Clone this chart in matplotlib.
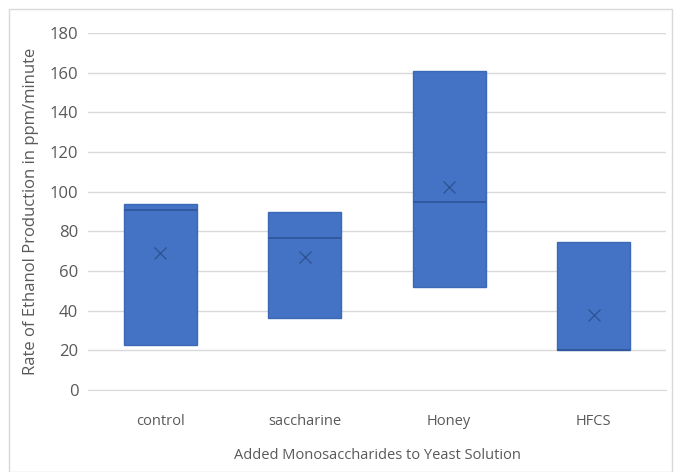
# Box plot: ethanol production rate by added monosaccharide

import matplotlib
matplotlib.use('Agg')
import matplotlib.pyplot as plt
from matplotlib.patches import Rectangle

# data
categories = ['control', 'saccharine', 'Honey', 'HFCS']
q1 = [22.7, 36.2, 51.7, 20.0]
median = [91.0, 76.6, 95.0, 20.0]
q3 = [93.8, 89.9, 161.0, 74.4]
mean = [69.0, 67.3, 102.2, 37.9]
yticks = [0, 20, 40, 60, 80, 100, 120, 140, 160, 180]

plt.rcParams['font.family'] = ['Open Sans', 'DejaVu Sans']

fig = plt.figure(figsize=(6.75, 4.72), dpi=100)
ax = fig.add_axes([88 / 675, 82 / 472, 578 / 675, 357 / 472])

# outer chart frame like excel
fig.patches.append(Rectangle((9 / 675, 0.0), 663 / 675, 463 / 472, transform=fig.transFigure,
                             fill=False, edgecolor='#D9D9D9', linewidth=1.0))

stats = []
for i, c in enumerate(categories):
    stats.append({'label': c, 'q1': q1[i], 'med': median[i], 'q3': q3[i],
                  'whislo': q1[i], 'whishi': q3[i], 'mean': mean[i], 'fliers': []})

positions = list(range(len(categories)))
ax.bxp(stats, positions=positions, widths=0.505, patch_artist=True,
       showmeans=True, showcaps=False, showfliers=False,
       boxprops=dict(facecolor='#4472C4', edgecolor='#3D68B5', linewidth=1.0),
       medianprops=dict(color='#2F5597', linewidth=1.2),
       whiskerprops=dict(linewidth=0),
       meanprops=dict(marker='x', markeredgecolor='#2F5597', markersize=9, markeredgewidth=1.0))

ax.set_xlim(-0.5, len(categories) - 0.5)
ax.set_ylim(0, 180)
ax.set_yticks(yticks)
ax.set_xticks(positions)
ax.set_xticklabels(categories)
ax.grid(True, axis='y', color='#D9D9D9', linewidth=1.0)
ax.set_axisbelow(True)
for s in ['top', 'right', 'left']:
    ax.spines[s].set_visible(False)
ax.spines['bottom'].set_color('#D9D9D9')
ax.tick_params(axis='both', length=0, colors='#595959')
ax.tick_params(axis='x', pad=17, labelsize=10.5)
ax.tick_params(axis='y', pad=7, labelsize=12)

ax.set_ylabel('Rate of Ethanol Production in ppm/minute', fontsize=12, color='#595959', labelpad=8)
ax.set_xlabel('Added Monosaccharides to Yeast Solution', fontsize=10.5, color='#595959', labelpad=14)

fig.savefig('out.png', dpi=100)
